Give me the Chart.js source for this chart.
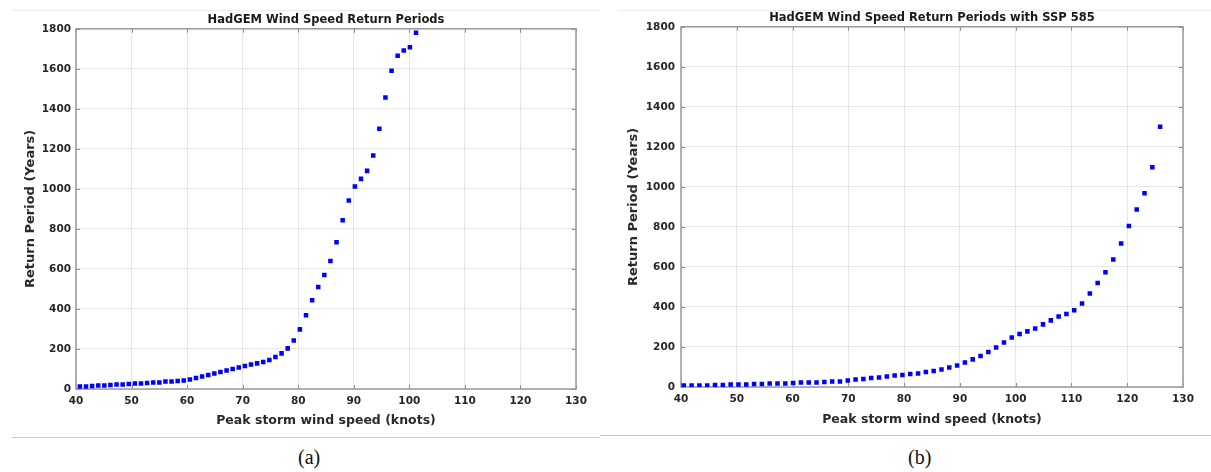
<!DOCTYPE html>
<html>
<head>
<meta charset="utf-8">
<script src="https://cdn.jsdelivr.net/npm/chart.js@4.4.0/dist/chart.umd.min.js"></script>
<style>
  body { margin: 0; background: #fff; width: 1211px; height: 472px; position: relative; overflow: hidden; }
  .panel { position: absolute; top: 0; height: 440px; }
  #panelA { left: 0; width: 600px; }
  #panelB { left: 605px; width: 606px; }
  .rule { position: absolute; height: 1px; background: #c8c8c8; }
  .caption { position: absolute; top: 446px; font-family: "Liberation Serif", "Times New Roman", serif; font-size: 20px; color: #111; }
</style>
</head>
<body>
<div class="rule" style="left:12px; width:588px; top:10px; background:#ececec"></div>
<div class="rule" style="left:618px; width:593px; top:10px; background:#ececec"></div>
<div class="panel" id="panelA"><canvas id="chartA"></canvas></div>
<div class="panel" id="panelB"><canvas id="chartB"></canvas></div>
<div class="rule" style="left:12px; width:588px; top:437px"></div>
<div class="rule" style="left:600px; width:611px; top:435px"></div>
<div class="caption" style="left:298px">(a)</div>
<div class="caption" style="left:908px">(b)</div>

<script>
// === Axis ticks ===
const xTicks = [40, 50, 60, 70, 80, 90, 100, 110, 120, 130];
const yTicks = [0, 200, 400, 600, 800, 1000, 1200, 1400, 1600, 1800];

// === (a) HadGEM, present climate ===
const speedsA = [
  40.7, 41.8, 42.9, 44.0, 45.1, 46.2, 47.3, 48.4, 49.5, 50.6,
  51.7, 52.8, 53.9, 55.0, 56.1, 57.2, 58.3, 59.4, 60.5, 61.6,
  62.7, 63.8, 64.9, 66.0, 67.1, 68.2, 69.3, 70.4, 71.5, 72.6,
  73.7, 74.8, 75.9, 77.0, 78.1, 79.2, 80.3, 81.4, 82.5, 83.6,
  84.7, 85.8, 86.9, 88.0, 89.1, 90.2, 91.3, 92.4, 93.5, 94.6,
  95.7, 96.8, 97.9, 99.0, 100.1, 101.2
];
const periodsA = [
  13, 13, 15, 17, 18, 20, 22, 22, 25, 27,
  28, 30, 32, 33, 37, 38, 40, 43, 48, 55,
  62, 70, 78, 85, 92, 100, 108, 115, 122, 128,
  135, 145, 160, 178, 203, 242, 298, 368, 443, 510,
  570, 640, 733, 843, 942, 1012, 1050, 1090, 1167, 1300,
  1457, 1590, 1665, 1692, 1708, 1780
];

// === (b) HadGEM with SSP 585 ===
const speedsB = [
  40.5, 41.9, 43.3, 44.7, 46.1, 47.5, 48.9, 50.3, 51.7, 53.1,
  54.5, 55.9, 57.3, 58.7, 60.1, 61.5, 62.9, 64.3, 65.7, 67.1,
  68.5, 69.9, 71.3, 72.7, 74.1, 75.5, 76.9, 78.3, 79.7, 81.1,
  82.5, 83.9, 85.3, 86.7, 88.1, 89.5, 90.9, 92.3, 93.7, 95.1,
  96.5, 97.9, 99.3, 100.7, 102.1, 103.5, 104.9, 106.3, 107.7, 109.1,
  110.5, 111.9, 113.3, 114.7, 116.1, 117.5, 118.9, 120.3, 121.7, 123.1,
  124.5, 125.9
];
const periodsB = [
  7, 8, 8, 8, 10, 10, 12, 13, 13, 15,
  15, 17, 18, 18, 20, 22, 23, 23, 25, 27,
  28, 32, 37, 40, 45, 48, 53, 57, 60, 65,
  68, 75, 80, 88, 97, 108, 122, 138, 155, 175,
  197, 222, 247, 265, 278, 292, 313, 333, 352, 365,
  383, 417, 467, 520, 573, 637, 717, 805, 887, 968,
  1098, 1300
];

const FONT = "'DejaVu Sans', Verdana, sans-serif";

// === Box round the plot plus short inward ticks (MATLAB look) ===
const framePlugin = {
  id: "frame",
  beforeDatasetsDraw(chart) {
    const { ctx, chartArea: a, scales } = chart;
    ctx.save();
    ctx.strokeStyle = "#8c8c8c";
    ctx.lineWidth = 1;
    ctx.beginPath();
    xTicks.forEach(v => {
      const px = Math.round(scales.x.getPixelForValue(v)) + 0.5;
      ctx.moveTo(px, a.top); ctx.lineTo(px, a.top + 4);
      ctx.moveTo(px, a.bottom); ctx.lineTo(px, a.bottom - 4);
    });
    yTicks.forEach(v => {
      const py = Math.round(scales.y.getPixelForValue(v)) + 0.5;
      ctx.moveTo(a.left, py); ctx.lineTo(a.left + 4, py);
      ctx.moveTo(a.right, py); ctx.lineTo(a.right - 4, py);
    });
    ctx.stroke();
    ctx.strokeStyle = "#9a9a9a";
    ctx.lineWidth = 1.5;
    ctx.strokeRect(a.left, a.top, a.right - a.left, a.bottom - a.top);
    ctx.restore();
  }
};

// === Build one return-period chart ===
function makeChart(canvasId, titleText, speeds, periods, g) {
  const points = speeds.map((s, i) => ({ x: s, y: periods[i] }));
  return new Chart(document.getElementById(canvasId), {
    type: "scatter",
    data: {
      datasets: [{
        data: points,
        pointStyle: "rect",
        pointRadius: 3.2,
        pointHoverRadius: 3.2,
        borderWidth: 0,
        backgroundColor: "#0000ff"
      }]
    },
    plugins: [framePlugin],
    options: {
      responsive: true,
      maintainAspectRatio: false,
      animation: false,
      events: [],
      layout: { padding: { left: 10, right: g.padRight, top: 0, bottom: 0 } },
      plugins: {
        legend: { display: false },
        tooltip: { enabled: false },
        title: {
          display: true,
          text: titleText,
          fullSize: false,
          color: "#1a1a1a",
          font: { family: FONT, size: 11.5, weight: "bold" },
          padding: { top: g.titleTop, bottom: g.titleBottom }
        }
      },
      scales: {
        x: {
          type: "linear",
          min: 40,
          max: 130,
          afterBuildTicks: s => { s.ticks = xTicks.map(v => ({ value: v })); },
          afterFit: s => { s.height = g.xHeight; },
          ticks: {
            color: "#262626", padding: g.xPad,
            font: { family: FONT, size: 10.5, weight: "bold" },
            callback: v => String(v)
          },
          grid: { color: "#e6e6e6", drawTicks: false },
          border: { display: false },
          title: {
            display: true,
            text: "Peak storm wind speed (knots)",
            color: "#2a2a2a",
            font: { family: FONT, size: 12.5, weight: "bold" },
            padding: { top: 0, bottom: g.xTitlePad }
          }
        },
        y: {
          type: "linear",
          min: 0,
          max: 1800,
          afterBuildTicks: s => { s.ticks = yTicks.map(v => ({ value: v })); },
          afterFit: s => { s.width = g.yWidth; },
          ticks: {
            color: "#262626", padding: g.yPad,
            font: { family: FONT, size: 10.5, weight: "bold" },
            callback: v => String(v)
          },
          grid: { color: "#e6e6e6", drawTicks: false },
          border: { display: false },
          title: {
            display: true,
            text: "Return Period (Years)",
            color: "#2a2a2a",
            font: { family: FONT, size: 13, weight: "bold" },
            padding: { top: g.yTitlePad, bottom: 0 }
          }
        }
      }
    }
  });
}

// === Draw both panels ===
makeChart("chartA", "HadGEM Wind Speed Return Periods", speedsA, periodsA, {
  padRight: 24, titleTop: 13, titleBottom: 2, xHeight: 51, xPad: 6, xTitlePad: 12,
  yWidth: 66, yPad: 5, yTitlePad: 13
});
makeChart("chartB", "HadGEM Wind Speed Return Periods with SSP 585", speedsB, periodsB, {
  padRight: 28, titleTop: 11, titleBottom: 2, xHeight: 53, xPad: 6, xTitlePad: 13,
  yWidth: 66, yPad: 6, yTitlePad: 10.5
});
</script>
</body>
</html>
